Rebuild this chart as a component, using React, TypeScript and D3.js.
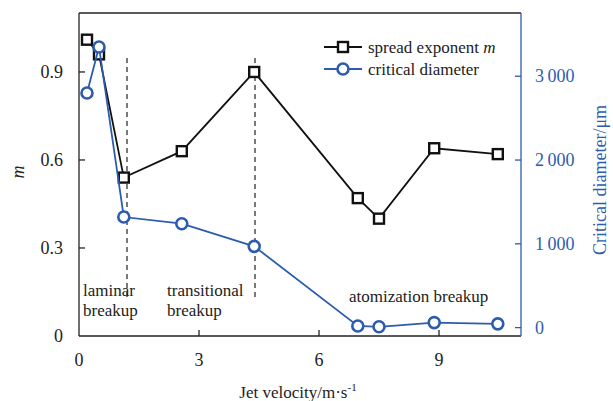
import React, { useEffect, useRef } from 'react';
import * as d3 from 'd3';

const velocity = [0.2, 0.5, 1.12, 2.57, 4.38, 6.97, 7.5, 8.88, 10.47];
const spreadM = [1.01, 0.96, 0.54, 0.63, 0.9, 0.47, 0.4, 0.64, 0.62];
const criticalDiameter = [2800, 3350, 1320, 1240, 970, 20, 10, 60, 45];
const xTicks = [0, 3, 6, 9];
const mTicks = [0, 0.3, 0.6, 0.9];
const dTicks = [0, 1000, 2000, 3000];
const dashedAt = [1.2, 4.4];
const regions = [
  { lines: ['laminar', 'breakup'], x: 0.1, y: 0.135 },
  { lines: ['transitional', 'breakup'], x: 2.2, y: 0.135 },
  { lines: ['atomization breakup'], x: 6.75, y: 0.115 },
];

const BLUE = '#2d5cae';
const FONT = 'Liberation Serif, DejaVu Serif';

const App: React.FC = () => {
  const svgRef = useRef<SVGSVGElement>(null);

  useEffect(() => {
    if (!svgRef.current) return;
    const svg = d3.select(svgRef.current);
    svg.selectAll('*').remove();

    const left = 79, right = 521, top = 13, bottom = 336;
    const x = d3.scaleLinear().domain([0, 11.05]).range([left, right]);
    const yM = d3.scaleLinear().domain([0, 1.101]).range([bottom, top]);
    const yD = d3.scaleLinear().domain([-100, 3755]).range([bottom, top]);

    const g = svg.append('g').style('font-family', FONT);

    // frame
    g.append('line').attr('x1', left).attr('x2', right).attr('y1', top).attr('y2', top)
      .attr('stroke', '#222').attr('stroke-width', 1.3);
    g.append('line').attr('x1', left).attr('x2', right).attr('y1', bottom).attr('y2', bottom)
      .attr('stroke', '#222').attr('stroke-width', 1.3);
    g.append('line').attr('x1', left).attr('x2', left).attr('y1', top).attr('y2', bottom)
      .attr('stroke', '#222').attr('stroke-width', 1.3);
    g.append('line').attr('x1', right).attr('x2', right).attr('y1', top).attr('y2', bottom)
      .attr('stroke', BLUE).attr('stroke-width', 1.3);

    // x ticks
    xTicks.forEach(t => {
      if (t > 0) g.append('line').attr('x1', x(t)).attr('x2', x(t)).attr('y1', bottom).attr('y2', bottom - 6)
        .attr('stroke', '#222').attr('stroke-width', 1.3);
      g.append('text').attr('x', x(t)).attr('y', 366).attr('text-anchor', 'middle')
        .attr('font-size', 18).attr('fill', '#222').text(String(t));
    });
    mTicks.forEach(t => {
      if (t > 0) g.append('line').attr('x1', left).attr('x2', left + 6).attr('y1', yM(t)).attr('y2', yM(t))
        .attr('stroke', '#222').attr('stroke-width', 1.3);
      g.append('text').attr('x', 63).attr('y', yM(t) + 6).attr('text-anchor', 'end')
        .attr('font-size', 18).attr('fill', '#222').text(t === 0 ? '0' : t.toFixed(1));
    });
    dTicks.forEach(t => {
      g.append('line').attr('x1', right).attr('x2', right - 6).attr('y1', yD(t)).attr('y2', yD(t))
        .attr('stroke', BLUE).attr('stroke-width', 1.3);
      g.append('text').attr('x', 535).attr('y', yD(t) + 6).attr('text-anchor', 'start')
        .attr('font-size', 18).attr('fill', BLUE)
        .text(t === 0 ? '0' : d3.format(',')(t).replace(',', '\u2009'));
    });

    // axis titles
    const xt = g.append('text').attr('x', 298).attr('y', 398).attr('text-anchor', 'middle')
      .attr('font-size', 17).attr('fill', '#222');
    xt.append('tspan').text('Jet velocity/m·s');
    xt.append('tspan').attr('dy', -7).attr('font-size', 11).text('-1');
    g.append('text').attr('transform', `translate(24,172) rotate(-90)`).attr('text-anchor', 'middle')
      .attr('font-size', 18).attr('font-style', 'italic').attr('fill', '#222').text('m');
    g.append('text').attr('transform', `translate(606,180) rotate(-90)`).attr('text-anchor', 'middle')
      .attr('font-size', 18).attr('fill', BLUE).text('Critical diameter/μm');

    // dashed separators
    dashedAt.forEach(v => {
      g.append('line').attr('x1', x(v)).attr('x2', x(v)).attr('y1', 58).attr('y2', 298)
        .attr('stroke', '#222').attr('stroke-width', 1.2).attr('stroke-dasharray', '5,4');
    });

    // region labels
    regions.forEach(r => {
      r.lines.forEach((l, i) => {
        g.append('text').attr('x', x(r.x)).attr('y', yM(r.y) + i * 20)
          .attr('font-size', 17).attr('fill', '#222').text(l);
      });
    });

    // series
    const lineM = d3.line<number>().x((_, i) => x(velocity[i])).y(d => yM(d));
    const lineD = d3.line<number>().x((_, i) => x(velocity[i])).y(d => yD(d));

    g.append('path').attr('d', lineM(spreadM)).attr('fill', 'none')
      .attr('stroke', '#111').attr('stroke-width', 1.8);
    g.selectAll('rect.m').data(spreadM).enter().append('rect')
      .attr('x', (_, i) => x(velocity[i]) - 5).attr('y', d => yM(d) - 5)
      .attr('width', 10).attr('height', 10)
      .attr('fill', '#fff').attr('stroke', '#111').attr('stroke-width', 2.4);

    g.append('path').attr('d', lineD(criticalDiameter)).attr('fill', 'none')
      .attr('stroke', BLUE).attr('stroke-width', 1.8);
    g.selectAll('circle.d').data(criticalDiameter).enter().append('circle')
      .attr('cx', (_, i) => x(velocity[i])).attr('cy', d => yD(d)).attr('r', 5.5)
      .attr('fill', '#fff').attr('stroke', BLUE).attr('stroke-width', 2.6);

    // legend
    const legend = [
      { label: 'spread exponent ', em: 'm', color: '#111', shape: 'rect', y: 47 },
      { label: 'critical diameter', em: '', color: BLUE, shape: 'circle', y: 69 },
    ];
    legend.forEach(l => {
      g.append('line').attr('x1', 324).attr('x2', 362).attr('y1', l.y).attr('y2', l.y)
        .attr('stroke', l.color).attr('stroke-width', 1.8);
      if (l.shape === 'rect') {
        g.append('rect').attr('x', 338).attr('y', l.y - 5).attr('width', 10).attr('height', 10)
          .attr('fill', '#fff').attr('stroke', l.color).attr('stroke-width', 2.4);
      } else {
        g.append('circle').attr('cx', 343).attr('cy', l.y).attr('r', 5.5)
          .attr('fill', '#fff').attr('stroke', l.color).attr('stroke-width', 2.6);
      }
      const t = g.append('text').attr('x', 368).attr('y', l.y + 5.5).attr('font-size', 17).attr('fill', '#222');
      t.append('tspan').text(l.label);
      if (l.em) t.append('tspan').attr('font-style', 'italic').text(l.em);
    });
  }, []);

  return (
    <svg ref={svgRef} width={613} height={401} viewBox="0 0 613 401"
      style={{ position: 'absolute', left: 0, top: 0, background: '#fff' }} />
  );
};

export default App;
